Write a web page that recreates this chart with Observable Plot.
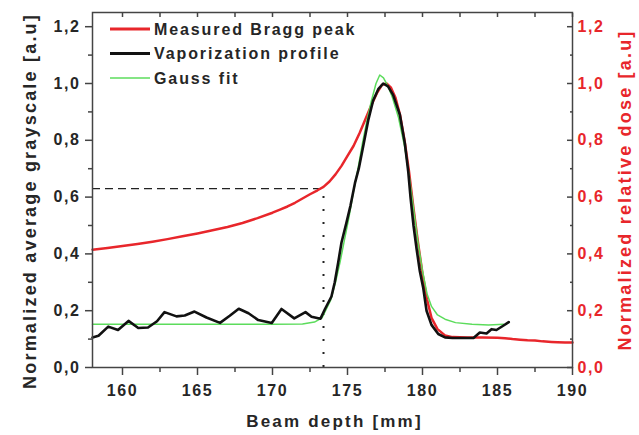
<!DOCTYPE html>
<html><head><meta charset="utf-8">
<script src="https://cdn.jsdelivr.net/npm/d3@7"></script>
<script src="https://cdn.jsdelivr.net/npm/@observablehq/plot@0.6"></script>
<style>
html,body{margin:0;padding:0;background:#fff;}
#chart svg text{letter-spacing:1.6px;}
#chart svg text.title{letter-spacing:2.2px;}
</style>
</head><body><div id="chart"></div>
<script>
// ---- data ----
const braggDepth = [158,159,160,161,162,163,164,165,166,167,168,169,170,170.5,171,171.5,172,172.5,173,173.4,173.8,174.2,174.6,175,175.4,175.8,176.2,176.6,177,177.3,177.6,177.9,178.2,178.5,178.8,179.1,179.4,179.7,180,180.3,180.6,181,181.5,182,183,184,185,185.5,186,186.5,187,187.5,188,188.6,189,189.5,190];
const braggDose  = [0.415,0.421,0.428,0.435,0.443,0.452,0.462,0.472,0.483,0.495,0.509,0.526,0.545,0.556,0.567,0.58,0.595,0.61,0.624,0.636,0.655,0.68,0.71,0.745,0.78,0.825,0.875,0.925,0.97,0.995,1.0,0.985,0.95,0.89,0.8,0.69,0.56,0.44,0.33,0.24,0.175,0.135,0.113,0.107,0.106,0.106,0.105,0.103,0.1,0.098,0.096,0.095,0.092,0.09,0.089,0.088,0.088];

const vaporDepth = [158,158.4,159.05,159.7,160.4,161.05,161.7,162.3,162.8,163.6,164.15,164.8,165.6,166.5,167.15,167.75,168.4,169.05,169.95,170.6,171.45,172.2,172.6,173.2,173.5,173.93,174.15,174.38,174.6,174.93,175.2,175.5,175.75,176.05,176.38,176.71,177.05,177.38,177.7,178.04,178.49,178.82,179.05,179.2,179.4,179.6,179.82,180.05,180.27,180.6,181.05,181.5,182,183.4,183.82,184.27,184.6,184.93,185.38,185.75];
const vaporGray  = [0.106,0.112,0.144,0.132,0.164,0.139,0.141,0.163,0.195,0.18,0.183,0.197,0.176,0.157,0.182,0.207,0.191,0.167,0.157,0.206,0.173,0.195,0.179,0.172,0.206,0.25,0.3,0.37,0.44,0.51,0.57,0.65,0.7,0.78,0.87,0.94,0.98,1.0,0.99,0.96,0.89,0.79,0.69,0.6,0.5,0.42,0.34,0.28,0.2,0.15,0.118,0.106,0.104,0.104,0.123,0.12,0.135,0.132,0.147,0.16];

const gaussDepth = [158,160,165,170,172,172.8,173.3,173.9,174.2,174.5,174.8,175.1,175.4,175.7,176,176.3,176.6,176.9,177.15,177.4,177.7,178,178.4,178.8,179.1,179.4,179.7,180,180.3,180.6,181,181.5,182.2,183.3,184.4,185.4];
const gaussGray  = [0.152,0.152,0.152,0.152,0.153,0.16,0.175,0.24,0.3,0.37,0.45,0.53,0.62,0.7,0.79,0.87,0.94,1.0,1.03,1.02,0.99,0.95,0.88,0.78,0.68,0.56,0.44,0.34,0.26,0.215,0.185,0.17,0.158,0.152,0.15,0.152];

const markerDepth = 173.4;   // dotted vertical guide
const markerLevel = 0.63;    // dashed horizontal guide

const xMajorTicks = [160,165,170,175,180,185,190];
const xMinorTicks = [162.5,167.5,172.5,177.5,182.5,187.5];
const yMajorTicks = [0,0.2,0.4,0.6,0.8,1.0,1.2];
const yMinorTicks = [0.1,0.3,0.5,0.7,0.9,1.1];

const seriesNames  = ["Measured Bragg peak","Vaporization profile","Gauss fit"];
const seriesColors = ["#e8262b","#111111","#5cdc5c"];
const seriesWidths = [2.5,2.6,1.5];

const xTitle = "Beam depth [mm]";
const yLeftTitle = "Normalized average grayscale [a.u]";
const yRightTitle = "Normalized relative dose [a.u]";

// ---- build ----
const bragg = braggDepth.map((d,i)=>({depth:d, value:braggDose[i]}));
const vapor = vaporDepth.map((d,i)=>({depth:d, value:vaporGray[i]}));
const gauss = gaussDepth.map((d,i)=>({depth:d, value:gaussGray[i]}));
const xDomain = [158,190];
const fmt = d => d.toFixed(1).replace(".", ",");
const axisColor = "#262626";
const red = seriesColors[0];
const font = "'Liberation Sans', Arial, sans-serif";
const M = {left:92, right:67, top:12, bottom:68};

const chart = Plot.plot({
  width: 639, height: 435,
  marginLeft: M.left, marginRight: M.right, marginTop: M.top, marginBottom: M.bottom,
  style: {fontFamily: font, background: "#fff", color: axisColor, overflow: "visible"},
  x: {domain: xDomain, label: null},
  y: {domain: [0,1.25], label: null},
  marks: [
    Plot.ruleY([{y: markerLevel, x1: xDomain[0], x2: markerDepth}], {y:"y", x1:"x1", x2:"x2", stroke:"#222", strokeWidth:1.4, strokeDasharray:"8,5"}),
    Plot.ruleX([{x: markerDepth, y1: 0, y2: markerLevel}], {x:"x", y1:"y1", y2:"y2", stroke:"#222", strokeWidth:2, strokeDasharray:"2,11"}),
    Plot.line(bragg, {x:"depth", y:"value", stroke: seriesColors[0], strokeWidth: seriesWidths[0]}),
    Plot.line(gauss, {x:"depth", y:"value", stroke: seriesColors[2], strokeWidth: seriesWidths[2]}),
    Plot.line(vapor, {x:"depth", y:"value", stroke: seriesColors[1], strokeWidth: seriesWidths[1]}),
    Plot.frame({stroke: "#444", strokeWidth: 1.5}),
    // bottom axis
    Plot.axisX(xMajorTicks, {anchor:"bottom", tickSize:8, tickPadding:9, tickFormat:"d", fontSize:16, fontWeight:"bold", fill:axisColor, stroke:"#444", strokeWidth:1.5, label:null}),
    Plot.axisX(xMinorTicks, {anchor:"bottom", tickSize:5, tickFormat:()=>"", stroke:"#444", strokeWidth:1.5, label:null}),
    // top axis (inward ticks)
    Plot.axisX(xMajorTicks.concat(xMinorTicks), {anchor:"top", tickSize:-4, tickFormat:()=>"", stroke:"#444", strokeWidth:1.5, label:null}),
    // left axis
    Plot.axisY(yMajorTicks, {anchor:"left", tickSize:7, tickPadding:5, tickFormat:fmt, fontSize:16, fontWeight:"bold", fill:axisColor, stroke:"#444", strokeWidth:1.5, label:null}),
    Plot.axisY(yMinorTicks, {anchor:"left", tickSize:4, tickFormat:()=>"", stroke:"#444", strokeWidth:1.5, label:null}),
    // right axis (inward ticks, red labels)
    Plot.axisY(yMajorTicks, {anchor:"right", tickSize:-6, tickPadding:11, tickFormat:fmt, fontSize:16, fontWeight:"bold", fill:red, stroke:"#444", strokeWidth:1.5, label:null}),
    Plot.axisY(yMinorTicks, {anchor:"right", tickSize:-3, tickFormat:()=>"", stroke:"#444", strokeWidth:1.5, label:null}),
    // titles
    Plot.text([xTitle], {text:d=>d, frameAnchor:"bottom", textAnchor:"middle", lineAnchor:"middle", dx:2, dy:54, fontSize:17, fontWeight:"bold", fill:axisColor}),
    Plot.text([yLeftTitle], {text:d=>d, frameAnchor:"left", textAnchor:"middle", lineAnchor:"middle", dx:-62, dy:11, rotate:-90, fontSize:18, fontWeight:"bold", fill:axisColor}),
    Plot.text([yRightTitle], {text:d=>d, frameAnchor:"right", textAnchor:"middle", lineAnchor:"middle", dx:53, dy:0, rotate:-90, fontSize:18, fontWeight:"bold", fill:red})
  ]
});

// mark title texts for spacing
const svg = d3.select(chart);
svg.selectAll("text").each(function(){
  const t = this.textContent;
  if (t === xTitle || t === yLeftTitle || t === yRightTitle) d3.select(this).attr("class","title");
});

// legend inside the frame (top-left)
const lg = svg.append("g").attr("font-family", font).attr("font-weight","bold").attr("font-size",16).attr("fill",axisColor).attr("text-anchor","start");
seriesNames.forEach((name,i)=>{
  const y = M.top + 17 + i*24.5;
  lg.append("line").attr("x1", M.left+18).attr("x2", M.left+58).attr("y1", y).attr("y2", y)
    .attr("stroke", seriesColors[i]).attr("stroke-width", seriesWidths[i] + (i===2?0:0.3));
  lg.append("text").attr("x", M.left+62).attr("y", y).attr("dy","0.36em").attr("text-anchor","start").style("letter-spacing","1.9px").text(name);
});

document.getElementById("chart").appendChild(chart);
</script>
</body></html>
